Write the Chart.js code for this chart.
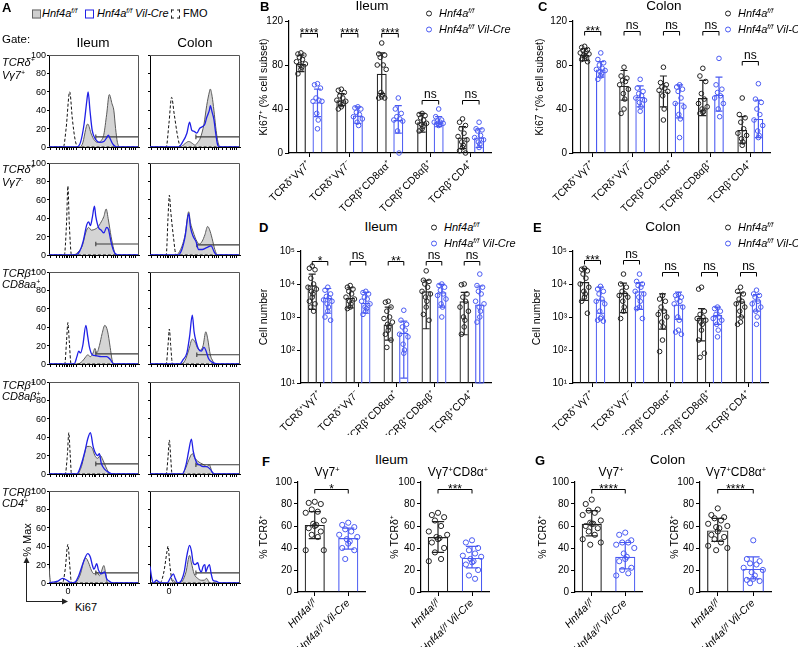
<!DOCTYPE html>
<html>
<head>
<meta charset="utf-8">
<title>Hnf4a IEL Ki67</title>
<script src="https://cdn.jsdelivr.net/npm/chart.js@4.4.1/dist/chart.umd.min.js"></script>
<style>
  html, body { margin: 0; padding: 0; background: #fff; }
  #fig { position: relative; width: 798px; height: 647px; overflow: hidden;
         font-family: 'Liberation Sans', Arial, Helvetica, sans-serif; color: #000; }
  #fig canvas { position: absolute; z-index: 1; }
  .lbl { position: absolute; white-space: nowrap; line-height: 1; z-index: 5; color: #000; }
  .sup { font-size: 62%; vertical-align: 0.55em; }
  .dot { display: inline-block; width: 4px; height: 4px; border: 1.2px solid #222; border-radius: 50%;
         margin-right: 7px; vertical-align: middle; }
  .box { display: inline-block; width: 7px; height: 7px; vertical-align: middle; }
</style>
</head>
<body>
<div id="fig"></div>
<script>
// ---------- A: Ki67 histograms, [Ki67 channel, % max] ----------
const ileumVg7pFF  = [[0,0],[33,0],[37,3],[43,25],[47,14],[50,8],[54,5],[58,7],[61,14],[64,35],[67,57],[70,47],[72,40],[74,20],[76,5],[79,0],[100,0]];
const ileumVg7pCre = [[0,0],[31,0],[35,5],[39,25],[42,50],[43.5,60],[45.5,40],[48,18],[52,8],[56,5],[61,6],[64,10],[66,13],[68,9],[71,3],[75,0],[100,0]];
const ileumVg7pFMO = [[0,0],[16,0],[19,20],[23,60],[26,30],[29,8],[32,0],[100,0]];
const ileumVg7nFF  = [[0,0],[27,0],[32,3],[37,10],[41,25],[44,30],[47,27],[51,28],[54,30],[58,36],[61,42],[63.5,50],[66,38],[69,20],[72,6],[74,0],[100,0]];
const ileumVg7nCre = [[0,0],[29,0],[34,4],[38,15],[42,33],[44,36],[46,32],[48,40],[50.5,53],[52,42],[55,30],[58,27],[61,24],[64,30],[66,28],[69,14],[72,4],[76,0],[100,0]];
const ileumVg7nFMO = [[0,0],[17,0],[19.5,35],[21,75],[22.5,35],[25,0],[100,0]];
const ileumCD8aaFF  = [[0,0],[32,0],[37,3],[41,8],[43,10],[46,8],[49,12],[51,17],[53,12],[56,20],[59,33],[62,42],[65,36],[68,18],[70,5],[72,0],[100,0]];
const ileumCD8aaCre = [[0,0],[28,0],[31,8],[33,14],[35,12],[37.5,20],[41,42],[43,30],[45,18],[48,10],[52,9],[58,8],[64,8],[68,5],[72,0],[100,0]];
const ileumCD8aaFMO = [[0,0],[17.5,0],[19.5,25],[21,45],[22.5,25],[24.5,0],[100,0]];
const ileumCD8abFF  = [[0,0],[31,0],[36,8],[39,20],[42,30],[45,30],[48,28],[51,20],[54,17],[57,20],[60,15],[63,8],[66,2],[67,0],[100,0]];
const ileumCD8abCre = [[0,0],[31,0],[35,8],[40,25],[43,38],[46,45],[49,30],[51,24],[54,20],[56,22],[58,12],[62,5],[66,2],[71,0],[100,0]];
const ileumCD8abFMO = [[0,0],[18,0],[20.5,22],[22,45],[23.5,22],[25,0],[100,0]];
const ileumCD4FF  = [[0,16],[2,0],[27,0],[31,2],[35,10],[39,25],[41,27],[44,22],[47,14],[50,10],[53,12],[56,8],[58,12],[61,19],[63,10],[65,0],[100,0]];
const ileumCD4Cre = [[0,0],[4,1],[10,2],[15,5],[20,3],[25,0],[29,1],[33,8],[38,22],[43,32],[46,28],[48,20],[50,15],[53,21],[55,14],[58,10],[62,12],[64,5],[67,2],[71,0],[100,0]];
const ileumCD4FMO = [[0,0],[15,0],[18,15],[21,42],[23,20],[25,0],[100,0]];

const colonVg7pFF  = [[0,0],[34,0],[38,3],[43,6],[47,4],[50,2],[53,5],[56,10],[60,25],[63,45],[66,60],[67,63],[69,55],[71,40],[73,22],[75,8],[78,0],[100,0]];
const colonVg7pCre = [[0,0],[32,0],[36,5],[41,15],[44,27],[46.5,18],[49,17],[52,15],[55,20],[58,22],[61,25],[63,32],[66,40],[67,45],[69,38],[71,30],[73,15],[75,3],[77,0],[100,0]];
const colonVg7pFMO = [[0,0],[18,0],[21,25],[24,54],[27,35],[31,10],[34,0],[100,0]];
const colonVg7nFF  = [[0,0],[29,0],[34,6],[39,22],[43,47],[45,35],[48,25],[52,15],[55,12],[58,15],[61,22],[64,31],[66,28],[69,18],[72,6],[75,0],[100,0]];
const colonVg7nCre = [[0,0],[31,0],[35,5],[39,20],[43,45],[45,30],[48,20],[51,15],[54,6],[58,6],[63,8],[68,10],[71,4],[74,0],[100,0]];
const colonVg7nFMO = [[0,0],[18,0],[20,40],[21.5,65],[23,48],[26,20],[29,0],[100,0]];
const colonCD8aaFF  = [[0,0],[35,0],[39,4],[43,15],[47,27],[50,24],[53,17],[56,15],[59,20],[62,35],[64,28],[67,10],[70,3],[72,0],[100,0]];
const colonCD8aaCre = [[0,0],[33,0],[37,5],[41,12],[44,30],[47,53],[49,35],[51,25],[54,16],[57,14],[60,18],[62,15],[65,6],[69,2],[75,0],[100,0]];
const colonCD8aaFMO = [[0,0],[18,0],[20,20],[21.5,38],[23,20],[25,0],[100,0]];
const colonCD8abFF  = [[0,0],[35,0],[39,5],[43,15],[47,22],[50,17],[53,14],[56,12],[60,10],[63,8],[66,10],[68,5],[70,0],[100,0]];
const colonCD8abCre = [[0,0],[36,0],[40,10],[43,25],[46,38],[48,25],[52,12],[55,10],[59,8],[63,8],[67,5],[70,1],[72,0],[100,0]];
const colonCD8abFMO = [[0,0],[18,0],[20,18],[21.5,37],[23,18],[24.5,0],[100,0]];
const colonCD4FF  = [[0,0],[24,0],[26,3],[28,1],[32,0],[36,2],[40,12],[44,30],[46,22],[49,10],[53,5],[57,3],[60,3],[63,5],[65,2],[67,0],[100,0]];
const colonCD4Cre = [[0,18],[2,5],[4,0],[7,3],[10,1],[13,0],[19,0],[23,6],[26,10],[28,5],[31,0],[35,3],[38,12],[41,30],[44,41],[46,35],[48,22],[50,20],[53,22],[55,15],[57,12],[59,18],[61,20],[62,12],[64,17],[66,20],[68,10],[70,3],[73,2],[78,0],[100,0]];
const colonCD4FMO = [[0,0],[11,0],[15,10],[19,35],[20,40],[22,20],[24,5],[25.5,0],[100,0]];

// gate start (Ki67) and level (% max) per row
const ileumGates = [[52, 11], [52, 12], [52, 11], [52, 11], [52, 11]];
const colonGates = [[51, 11], [52, 11], [52, 10], [51, 10], [51, 11]];
const pctMaxTicks = [0, 20, 40, 60, 80, 100];

// ---------- B-E: subsets ----------
const subsets = ['TCRδ⁺Vγ7⁺', 'TCRδ⁺Vγ7⁻', 'TCRβ⁺CD8αα⁺', 'TCRβ⁺CD8αβ⁺', 'TCRβ⁺CD4⁺'];

// B: ileum Ki67+ (%)
const ileumKi67FfMean = [81, 48, 72, 28, 14];
const ileumKi67FfLow  = [74, 43, 54, 19, 4];
const ileumKi67FfHigh = [89, 54, 91, 36, 24];
const ileumKi67FfPts  = [[91, 90, 89, 87, 85, 83, 81, 80, 78, 76, 72],
                         [58, 57, 55, 52, 50, 48, 47, 45, 44, 42, 40],
                         [100, 90, 89, 87, 80, 80, 76, 55, 53, 51, 50, 50],
                         [36, 35, 34, 32, 30, 28, 27, 26, 24, 22, 20],
                         [31, 28, 25, 22, 18, 15, 12, 10, 7, 5, 2, 0]];
const ileumKi67CreMean = [46, 34, 30, 28, 14];
const ileumKi67CreLow  = [33, 27, 18, 24, 5];
const ileumKi67CreHigh = [58, 42, 43, 33, 22];
const ileumKi67CrePts  = [[63, 62, 59, 50, 48, 47, 47, 36, 30, 22],
                          [42, 41, 40, 37, 35, 33, 31, 28, 25],
                          [50, 40, 36, 33, 31, 30, 29, 20, 0],
                          [40, 33, 30, 29, 28, 28, 27, 27, 26, 25],
                          [28, 22, 21, 20, 16, 14, 12, 10, 8, 5]];
const ileumKi67Sig   = ['****', '****', '****', 'ns', 'ns'];
const ileumKi67SigAt = [109, 109, 109, 48, 48];

// C: colon Ki67+ (%)
const colonKi67FfMean = [89, 61, 56, 50, 21];
const colonKi67FfLow  = [84, 48, 42, 34, 9];
const colonKi67FfHigh = [95, 75, 70, 66, 33];
const colonKi67FfPts  = [[97, 96, 94, 93, 92, 91, 90, 89, 88, 86, 85, 83],
                         [78, 70, 68, 66, 65, 62, 58, 54, 49, 40, 36],
                         [78, 64, 62, 60, 59, 57, 56, 52, 40, 30],
                         [77, 70, 65, 54, 49, 45, 42, 40, 38, 37, 36],
                         [50, 35, 32, 28, 22, 18, 16, 13, 10, 7]];
const colonKi67CreMean = [76, 51, 46, 53, 31];
const colonKi67CreLow  = [69, 42, 32, 38, 14];
const colonKi67CreHigh = [83, 61, 62, 69, 48];
const colonKi67CrePts  = [[91, 85, 82, 80, 77, 76, 75, 74, 72, 70, 67],
                          [67, 59, 56, 54, 52, 50, 48, 46, 42, 38],
                          [62, 60, 58, 56, 50, 45, 42, 35, 31, 14],
                          [86, 62, 58, 55, 52, 50, 45, 40, 33],
                          [63, 49, 46, 40, 35, 30, 25, 20, 16, 14]];
const colonKi67Sig   = ['***', 'ns', 'ns', 'ns', 'ns'];
const colonKi67SigAt = [111, 111, 111, 111, 84];

// D: ileum cell number
const ileumCountFfMean = [9100, 3800, 590, 6000, 3000];
const ileumCountFfLow  = [1700, 1900, 200, 440, 290];
const ileumCountFfHigh = [20000, 7700, 2000, 13000, 5600];
const ileumCountFfPts  = [[35000, 30000, 27000, 15000, 10000, 8000, 7000, 6000, 5000, 4000, 3000, 2500, 2000, 1500],
                          [9000, 8000, 7000, 6000, 5000, 4000, 3500, 3000, 2500, 2000, 1800],
                          [3000, 2800, 2000, 1500, 1000, 900, 700, 600, 500, 400, 300, 200, 120],
                          [25000, 13000, 12000, 10000, 8000, 6000, 5000, 4000, 3000, 2000, 1200, 800],
                          [10000, 9500, 5000, 4000, 3000, 2000, 1500, 1000, 800, 500, 300]];
const ileumCountCreMean = [3800, 2700, 330, 5600, 2400];
const ileumCountCreLow  = [1300, 1300, 14, 2000, 10];
const ileumCountCreHigh = [7300, 5600, 750, 9800, 8700];
const ileumCountCrePts  = [[8000, 6500, 5000, 4200, 3800, 3300, 3000, 2500, 2000, 1500, 1000, 800],
                           [6000, 5500, 5000, 4000, 3500, 3000, 2500, 2000, 1800, 1500, 1200],
                           [1600, 800, 600, 500, 400, 300, 250, 150, 100, 80],
                           [10000, 9000, 8000, 6500, 5000, 4500, 3500, 2500, 2000, 1000],
                           [20000, 9000, 8000, 6000, 5000, 3000, 2500, 2000, 1500, 1000, 700]];
const ileumCountSig   = ['*', 'ns', '**', 'ns', 'ns'];
const ileumCountSigAt = [50000, 50000, 50000, 50000, 50000];

// E: colon cell number
const colonCountFfMean = [11500, 5400, 1700, 950, 3000];
const colonCountFfLow  = [3200, 1350, 430, 190, 1000];
const colonCountFfHigh = [30000, 10700, 5000, 1800, 5400];
const colonCountFfPts  = [[30000, 28000, 25000, 20000, 15000, 10000, 8000, 6000, 5000, 4000, 3000, 1300],
                          [20000, 10000, 8000, 6000, 5000, 4500, 4000, 3000, 2000, 1500, 900],
                          [4500, 3500, 3000, 2000, 1500, 1200, 1000, 700, 500, 200, 90],
                          [8000, 7000, 1500, 1200, 1000, 900, 800, 700, 600, 400, 200, 80, 60],
                          [8000, 6000, 5000, 3500, 3000, 2500, 2000, 1500, 1000, 700, 600]];
const colonCountCreMean = [3400, 6000, 2400, 1150, 3200];
const colonCountCreLow  = [1300, 1700, 850, 600, 1500];
const colonCountCreHigh = [8000, 11000, 5700, 2000, 4800];
const colonCountCrePts  = [[8500, 7000, 6000, 5000, 3500, 3000, 2500, 1500, 1000, 900, 800, 750],
                           [20000, 12000, 10000, 9000, 8000, 6000, 5000, 4000, 3000, 2000, 1800, 900],
                           [4800, 4500, 4000, 3500, 3000, 2500, 2000, 1000, 800, 400, 350, 300],
                           [2000, 1800, 1500, 1200, 1000, 900, 800, 600, 400, 250],
                           [6500, 5000, 4500, 4000, 3000, 2500, 2000, 1500, 1000, 600]];
const colonCountSig   = ['***', 'ns', 'ns', 'ns', 'ns'];
const colonCountSigAt = [55000, 55000, 23000, 23000, 23000];

// ---------- F-G: % TCRδ+ by genotype ----------
const genotypes = ['Hnf4aᶠ/ᶠ', 'Hnf4aᶠ/ᶠ Vil-Cre'];
const ileumVg7Mean = [61, 49];
const ileumVg7Low  = [48.5, 39];
const ileumVg7High = [73, 58];
const ileumVg7FfPts  = [82, 81, 80, 75, 73, 72, 65, 62, 61, 60, 58, 55, 52, 50, 38, 38];
const ileumVg7CrePts = [63, 61, 59, 57, 55, 52, 50, 48, 46, 44, 40, 38, 30];
const ileumVg7CD8Mean = [50, 31];
const ileumVg7CD8Low  = [36, 22];
const ileumVg7CD8High = [64, 41.5];
const ileumVg7CD8FfPts  = [72, 70, 68, 65, 60, 55, 52, 50, 49, 48, 45, 40, 36, 30, 28];
const ileumVg7CD8CrePts = [47, 45, 40, 38, 35, 33, 32, 30, 28, 27, 25, 20, 15, 12];
const colonVg7Mean = [62, 32];
const colonVg7Low  = [51, 21];
const colonVg7High = [74, 45];
const colonVg7FfPts  = [84, 80, 75, 74, 72, 70, 65, 63, 62, 62, 60, 58, 55, 52, 48, 45, 43];
const colonVg7CrePts = [54, 52, 47, 45, 45, 43, 40, 35, 32, 30, 28, 22, 20, 17, 15];
const colonVg7CD8Mean = [56, 21];
const colonVg7CD8Low  = [46, 12];
const colonVg7CD8High = [67, 32];
const colonVg7CD8FfPts  = [76, 70, 68, 67, 65, 62, 60, 59, 58, 55, 52, 50, 48, 45, 42, 40, 38];
const colonVg7CD8CrePts = [47, 30, 28, 26, 25, 22, 20, 18, 15, 12, 11, 10, 8];
const pairSig   = ['*', '***', '****', '****'];
const pairSigAt = [94, 94, 94, 94];

// ---------- drawing ----------
const FONT = "'Liberation Sans', Arial, Helvetica, sans-serif";
const INK = '#222';
const BLUE = '#4a5af2';
const HIST_BLUE = '#2020e6';
const SUPS = ['⁰', '¹', '²', '³', '⁴', '⁵'];
const SPREAD = [0, -1, 1, -0.5, 0.5, -1.5, 1.5, -0.25, 0.25];
const KI67_TICKS = [2, 8, 12, 15, 17, 19, 21, 23, 25, 27, 31, 37, 41, 45, 48, 50, 52, 56, 61, 65, 69, 72, 74, 76, 80, 85, 89, 92, 94, 96];
const KI67_ZERO = 21;
const HIST_W = 90, HIST_H = 92;
const FF_HTML = '<i>Hnf4a<span class="sup">f/f</span></i>';
const CRE_HTML = '<i>Hnf4a<span class="sup">f/f</span> Vil-Cre</i>';

Chart.defaults.font.family = FONT;
Chart.defaults.color = '#000';
Chart.defaults.animation = false;
Chart.defaults.responsive = false;
Chart.defaults.events = [];
Chart.defaults.plugins.legend.display = false;
Chart.defaults.plugins.tooltip.enabled = false;

const fig = document.getElementById('fig');

function makeCanvas(x, y, w, h) {
  const c = document.createElement('canvas');
  c.width = w; c.height = h;
  c.style.left = x + 'px'; c.style.top = y + 'px';
  c.style.width = w + 'px'; c.style.height = h + 'px';
  fig.appendChild(c);
  return c;
}

function plotCanvas(p) {
  return makeCanvas(p.l - p.yW, p.t - p.padT, p.yW + (p.r - p.l) + p.padR, p.padT + (p.b - p.t) + p.xH);
}

function label(html, x, y, size, opts = {}) {
  const d = document.createElement('div');
  d.className = 'lbl';
  d.innerHTML = html;
  d.style.left = x + 'px';
  d.style.top = y + 'px';
  d.style.fontSize = size + 'px';
  if (opts.bold) d.style.fontWeight = 'bold';
  if (opts.italic) d.style.fontStyle = 'italic';
  const tx = opts.align === 'center' ? '-50%' : opts.align === 'right' ? '-100%' : '0';
  d.style.transform = `translate(${tx}, -50%)` + (opts.rotate ? ` rotate(${opts.rotate}deg)` : '');
  fig.appendChild(d);
}

// top + right border of the flow plots
const boxFrame = {
  id: 'boxFrame',
  afterDraw(chart) {
    const a = chart.chartArea, c = chart.ctx;
    c.save();
    c.strokeStyle = '#555';
    c.lineWidth = 1;
    c.beginPath();
    c.moveTo(a.left, a.top + 0.5);
    c.lineTo(a.right - 0.5, a.top + 0.5);
    c.lineTo(a.right - 0.5, a.bottom);
    c.stroke();
    c.restore();
  }
};

function histogram(top, left, curves, gate, yLabels, xLabels) {
  const p = {l: left, t: top, r: left + HIST_W, b: top + HIST_H, yW: 4, padT: 6, padR: 3, xH: xLabels ? 14 : 4};
  const [ff, cre, fmo] = curves;
  const xy = a => a.map(q => ({x: q[0], y: q[1]}));
  const gateLine = [{x: gate[0], y: gate[1] + 2.5}, {x: gate[0], y: gate[1] - 2.5}, {x: gate[0], y: gate[1]}, {x: 100, y: gate[1]}];
  new Chart(plotCanvas(p), {
    type: 'line',
    data: {
      datasets: [
        {data: xy(cre), borderColor: HIST_BLUE, borderWidth: 1.3, fill: false, order: 1},
        {data: xy(fmo), borderColor: '#111', borderWidth: 1, borderDash: [3, 2], fill: false, order: 2},
        {data: gateLine, borderColor: '#3a3a3a', borderWidth: 1.1, fill: false, cubicInterpolationMode: 'default', tension: 0, order: 3},
        {data: xy(ff), borderColor: '#5a5a5a', borderWidth: 1, backgroundColor: '#d4d4d4', fill: 'origin', order: 4}
      ]
    },
    options: {
      devicePixelRatio: 1,
      layout: {padding: {top: p.padT, right: p.padR, left: 0, bottom: 0}},
      elements: {point: {radius: 0}, line: {cubicInterpolationMode: 'monotone'}},
      scales: {
        x: {
          type: 'linear', min: 0, max: 100,
          afterBuildTicks: s => { s.ticks = KI67_TICKS.map(v => ({value: v})); },
          ticks: {autoSkip: false, maxRotation: 0, padding: 0, font: {size: 9},
                  callback: v => (xLabels && v === KI67_ZERO) ? '0' : ''},
          grid: {drawOnChartArea: false, tickLength: 3, tickColor: '#000'},
          border: {color: '#000', width: 1},
          afterFit: s => { s.height = p.xH; }
        },
        y: {
          type: 'linear', min: 0, max: 100,
          afterBuildTicks: s => { s.ticks = pctMaxTicks.map(v => ({value: v})); },
          ticks: {display: false},
          grid: {drawOnChartArea: false, tickLength: 2, tickColor: '#000'},
          border: {color: '#000', width: 1},
          afterFit: s => { s.width = p.yW; }
        }
      }
    },
    plugins: [boxFrame]
  });
  // % max tick labels beside the ileum column
  if (yLabels) {
    pctMaxTicks.forEach(v => label(String(v), p.l - 3, p.t + HIST_H * (1 - v / 100), 9, {align: 'right'}));
  }
}

// error bars + significance brackets, using the bar elements' own geometry
function statMarks(errs, brackets) {
  return {
    id: 'statMarks',
    afterDatasetsDraw(chart) {
      const ctx = chart.ctx, ys = chart.scales.y;
      ctx.save();
      ctx.lineWidth = 1.2;
      errs.forEach(e => {
        const meta = chart.getDatasetMeta(e.ds);
        e.low.forEach((lo, i) => {
          const bar = meta.data[i];
          const cap = Math.max(3.5, bar.width * 0.3);
          const y1 = ys.getPixelForValue(Math.max(lo, ys.min));
          const y2 = ys.getPixelForValue(e.high[i]);
          ctx.strokeStyle = e.color;
          ctx.beginPath();
          ctx.moveTo(bar.x, y1); ctx.lineTo(bar.x, y2);
          ctx.moveTo(bar.x - cap, y1); ctx.lineTo(bar.x + cap, y1);
          ctx.moveTo(bar.x - cap, y2); ctx.lineTo(bar.x + cap, y2);
          ctx.stroke();
        });
      });
      ctx.lineWidth = 1;
      ctx.strokeStyle = '#000';
      ctx.fillStyle = '#000';
      ctx.font = '12px ' + FONT;
      ctx.textAlign = 'center';
      ctx.textBaseline = 'alphabetic';
      brackets.forEach(b => {
        const xa = chart.getDatasetMeta(b.a[0]).data[b.a[1]].x;
        const xb = chart.getDatasetMeta(b.b[0]).data[b.b[1]].x;
        const yy = Math.round(ys.getPixelForValue(b.at)) + 0.5;
        ctx.beginPath();
        ctx.moveTo(xa, yy + 4); ctx.lineTo(xa, yy); ctx.lineTo(xb, yy); ctx.lineTo(xb, yy + 4);
        ctx.stroke();
        const stars = b.text.indexOf('*') >= 0;
        ctx.fillText(b.text, (xa + xb) / 2, stars ? yy + 3 : yy - 3);
      });
      ctx.restore();
    }
  };
}

function isPow10(v) {
  const l = Math.log10(v);
  return Math.abs(l - Math.round(l)) < 1e-9;
}

// bars, dots, error bars and brackets share one linear x axis (category i sits at x = i)
function barPanel(p, o) {
  const pair = !!o.pair;
  const n = o.labels.length;
  const SHIFT = pair ? 0 : 0.205;          // half the distance between the two bars of a group
  const BP = 0.6;                          // bar width as a share of the closest bar spacing
  const half = pair ? BP / 2 : SHIFT * BP; // half bar width, in x units
  const sets = [{s: o.ff, col: INK}, {s: o.cre, col: BLUE}];
  const datasets = [];
  const errs = [];
  sets.forEach(({s, col}, k) => {
    const centers = pair ? [k] : o.labels.map((_, i) => i + (k ? 1 : -1) * SHIFT);
    const means = pair ? [s.mean] : s.mean;
    datasets.push({type: 'bar', data: centers.map((c, i) => ({x: c, y: means[i]})),
                   xAxisID: 'x', yAxisID: 'y', grouped: false,
                   borderColor: col, backgroundColor: 'rgba(0,0,0,0)', borderWidth: 1.2,
                   categoryPercentage: 1, barPercentage: BP, order: 3});
    errs.push({ds: k, low: pair ? [s.low] : s.low, high: pair ? [s.high] : s.high, color: col});
  });
  sets.forEach(({s, col}, k) => {
    const columns = pair ? [s.pts] : s.pts;
    const data = [];
    columns.forEach((vals, i) => {
      const center = pair ? k : i + (k ? 1 : -1) * SHIFT;
      vals.forEach((v, j) => data.push({x: center + SPREAD[j % SPREAD.length] * half * 0.6, y: v}));
    });
    datasets.push({type: 'scatter', data, xAxisID: 'x', yAxisID: 'y', borderColor: col,
                   backgroundColor: 'rgba(255,255,255,0)', pointRadius: o.dot, pointBorderWidth: 1,
                   clip: false, order: 1});
  });
  const brackets = o.sig.map((t, i) => pair
    ? {a: [0, 0], b: [1, 0], at: o.sigAt[i], text: t}
    : {a: [0, i], b: [1, i], at: o.sigAt[i], text: t});

  const yTitleSize = 10.5;
  const titlePad = o.titleX - (p.l - p.yW) - 0.6 * yTitleSize;
  const y = o.log ? {
    type: 'logarithmic', min: 10, max: 100000,
    afterBuildTicks: s => { s.ticks = s.ticks.filter(t => isPow10(t.value)); },
    ticks: {padding: 2, font: {size: 10}, callback: v => '10' + SUPS[Math.round(Math.log10(v))]}
  } : {
    type: 'linear', min: 0, max: o.yMax,
    ticks: {stepSize: o.yStep, padding: 2, font: {size: 10}}
  };
  Object.assign(y, {
    grid: {drawOnChartArea: false, tickLength: 4, tickColor: '#000'},
    border: {color: '#000', width: 1.2},
    title: {display: true, text: o.yTitle, font: {size: yTitleSize}, padding: {top: titlePad, bottom: 0}},
    afterFit: s => { s.width = p.yW; }
  });

  new Chart(plotCanvas(p), {
    type: 'bar',
    data: {datasets},
    options: {
      devicePixelRatio: 1,
      layout: {padding: {top: p.padT, right: p.padR, left: 0, bottom: 0}},
      scales: {
        x: {
          type: 'linear', min: -0.5, max: n - 0.5, offset: false,
          afterBuildTicks: s => { s.ticks = o.labels.map((_, i) => ({value: i})); },
          grid: {offset: false, drawOnChartArea: false, tickLength: 4, tickColor: '#000'},
          border: {color: '#000', width: 1.2},
          ticks: {autoSkip: false, minRotation: 45, maxRotation: 45, padding: 1,
                  font: {size: 10.5, style: pair ? 'italic' : 'normal'},
                  callback: v => o.labels[v] || ''},
          afterFit: s => { s.height = p.xH; }
        },
        y
      }
    },
    plugins: [statMarks(errs, brackets)]
  });
}

// ---------- panel A ----------
const histRows = [
  {top: 55,  ileum: [ileumVg7pFF, ileumVg7pCre, ileumVg7pFMO],    colon: [colonVg7pFF, colonVg7pCre, colonVg7pFMO]},
  {top: 163, ileum: [ileumVg7nFF, ileumVg7nCre, ileumVg7nFMO],    colon: [colonVg7nFF, colonVg7nCre, colonVg7nFMO]},
  {top: 272, ileum: [ileumCD8aaFF, ileumCD8aaCre, ileumCD8aaFMO], colon: [colonCD8aaFF, colonCD8aaCre, colonCD8aaFMO]},
  {top: 382, ileum: [ileumCD8abFF, ileumCD8abCre, ileumCD8abFMO], colon: [colonCD8abFF, colonCD8abCre, colonCD8abFMO]},
  {top: 491, ileum: [ileumCD4FF, ileumCD4Cre, ileumCD4FMO],       colon: [colonCD4FF, colonCD4Cre, colonCD4FMO]}
];
histRows.forEach((r, i) => {
  const last = i === histRows.length - 1;
  histogram(r.top, 49, r.ileum, ileumGates[i], true, last);
  histogram(r.top, 150, r.colon, colonGates[i], false, last);
});

const rowNames = [['TCRδ<span class="sup">+</span>', 'Vγ7<span class="sup">+</span>', 62, 75],
                  ['TCRδ<span class="sup">+</span>', 'Vγ7<span class="sup">-</span>', 169, 182],
                  ['TCRβ<span class="sup">+</span>', 'CD8aa<span class="sup">+</span>', 273, 284],
                  ['TCRβ<span class="sup">+</span>', 'CD8aβ<span class="sup">+</span>', 385, 396],
                  ['TCRβ<span class="sup">+</span>', 'CD4<span class="sup">+</span>', 492, 503]];
rowNames.forEach(r => {
  label(r[0], 2, r[2], 11, {italic: true});
  label(r[1], 2, r[3], 11, {italic: true});
});

label('A', 2, 7, 13, {bold: true});
label('<span class="box" style="background:#cfcfcf;border:1px solid #666"></span>', 32, 13, 11);
label(FF_HTML, 42, 13, 11);
label('<span class="box" style="border:1.2px solid ' + HIST_BLUE + '"></span>', 85, 13, 11);
label(CRE_HTML, 97, 13, 11);
label('<span class="box" style="border:1px dashed #222"></span>', 171, 13, 11);
label('FMO', 183, 13, 11);
label('Gate:', 2, 40, 11.5);
label('Ileum', 93, 43, 13.5, {align: 'center'});
label('Colon', 195, 43, 13.5, {align: 'center'});
label('% Max', 27, 540, 11, {align: 'center', rotate: -90});
label('Ki67', 75, 607, 11);

const svg = document.createElementNS('http://www.w3.org/2000/svg', 'svg');
svg.setAttribute('width', '80'); svg.setAttribute('height', '60');
svg.style.position = 'absolute'; svg.style.left = '0px'; svg.style.top = '550px';
svg.innerHTML = '<line x1="26.5" y1="52" x2="26.5" y2="12" stroke="#222" stroke-width="1"/>' +
                '<polygon points="23.5,13 29.5,13 26.5,7" fill="#222"/>' +
                '<line x1="26.5" y1="51.5" x2="63" y2="51.5" stroke="#222" stroke-width="1"/>' +
                '<polygon points="62,48.5 62,54.5 68,51.5" fill="#222"/>';
fig.appendChild(svg);

// ---------- panels B-E ----------
function pack(mean, low, high, pts) { return {mean, low, high, pts}; }

barPanel({l: 289, t: 21, r: 491, b: 153, yW: 39, padT: 12, padR: 6, xH: 58}, {
  labels: subsets, yMax: 120, yStep: 40, yTitle: 'Ki67⁺ (% cell subset)', titleX: 264, dot: 2.3,
  ff: pack(ileumKi67FfMean, ileumKi67FfLow, ileumKi67FfHigh, ileumKi67FfPts),
  cre: pack(ileumKi67CreMean, ileumKi67CreLow, ileumKi67CreHigh, ileumKi67CrePts),
  sig: ileumKi67Sig, sigAt: ileumKi67SigAt
});
barPanel({l: 573, t: 21, r: 770, b: 153, yW: 47, padT: 12, padR: 6, xH: 58}, {
  labels: subsets, yMax: 120, yStep: 40, yTitle: 'Ki67 ⁺(% cell subset)', titleX: 540, dot: 2.3,
  ff: pack(colonKi67FfMean, colonKi67FfLow, colonKi67FfHigh, colonKi67FfPts),
  cre: pack(colonKi67CreMean, colonKi67CreLow, colonKi67CreHigh, colonKi67CrePts),
  sig: colonKi67Sig, sigAt: colonKi67SigAt
});
barPanel({l: 301, t: 251, r: 491, b: 383, yW: 49, padT: 10, padR: 6, xH: 52}, {
  labels: subsets, log: true, yTitle: 'Cell number', titleX: 264, dot: 2.3,
  ff: pack(ileumCountFfMean, ileumCountFfLow, ileumCountFfHigh, ileumCountFfPts),
  cre: pack(ileumCountCreMean, ileumCountCreLow, ileumCountCreHigh, ileumCountCrePts),
  sig: ileumCountSig, sigAt: ileumCountSigAt
});
barPanel({l: 573, t: 251, r: 768, b: 383, yW: 48, padT: 10, padR: 6, xH: 52}, {
  labels: subsets, log: true, yTitle: 'Cell number', titleX: 537, dot: 2.3,
  ff: pack(colonCountFfMean, colonCountFfLow, colonCountFfHigh, colonCountFfPts),
  cre: pack(colonCountCreMean, colonCountCreLow, colonCountCreHigh, colonCountCrePts),
  sig: colonCountSig, sigAt: colonCountSigAt
});

// ---------- panels F-G ----------
const pairs = [
  {p: {l: 298, t: 482, r: 365, b: 592, yW: 46}, titleX: 264, mean: ileumVg7Mean, low: ileumVg7Low, high: ileumVg7High, ff: ileumVg7FfPts, cre: ileumVg7CrePts},
  {p: {l: 421, t: 482, r: 489, b: 592, yW: 38}, titleX: 395, mean: ileumVg7CD8Mean, low: ileumVg7CD8Low, high: ileumVg7CD8High, ff: ileumVg7CD8FfPts, cre: ileumVg7CD8CrePts},
  {p: {l: 575, t: 482, r: 642, b: 592, yW: 44}, titleX: 543, mean: colonVg7Mean, low: colonVg7Low, high: colonVg7High, ff: colonVg7FfPts, cre: colonVg7CrePts},
  {p: {l: 700, t: 482, r: 771, b: 592, yW: 37}, titleX: 675, mean: colonVg7CD8Mean, low: colonVg7CD8Low, high: colonVg7CD8High, ff: colonVg7CD8FfPts, cre: colonVg7CD8CrePts}
];
pairs.forEach((q, i) => {
  barPanel(Object.assign({padT: 8, padR: 6, xH: 55}, q.p), {
    pair: true, labels: genotypes, yMax: 100, yStep: 20, yTitle: '% TCRδ⁺', titleX: q.titleX, dot: 2.6,
    ff: pack(q.mean[0], q.low[0], q.high[0], q.ff),
    cre: pack(q.mean[1], q.low[1], q.high[1], q.cre),
    sig: [pairSig[i]], sigAt: [pairSigAt[i]]
  });
});

// ---------- text for B-G ----------
[['B', 260, 6], ['C', 538, 6], ['D', 259, 227], ['E', 533, 227], ['F', 262, 461], ['G', 535, 460]]
  .forEach(t => label(t[0], t[1], t[2], 13, {bold: true}));
label('Ileum', 372, 6, 13.5, {align: 'center'});
label('Colon', 664, 6, 13.5, {align: 'center'});
label('Ileum', 381, 227, 13.5, {align: 'center'});
label('Colon', 663, 227, 13.5, {align: 'center'});
label('Ileum', 375, 460, 13.5);
label('Colon', 650, 460, 13.5);
label('Vγ7<span class="sup">+</span>', 327, 472, 12, {align: 'center'});
label('Vγ7<span class="sup">+</span>CD8α<span class="sup">+</span>', 458, 472, 12, {align: 'center'});
label('Vγ7<span class="sup">+</span>', 611, 472, 12, {align: 'center'});
label('Vγ7<span class="sup">+</span>CD8α<span class="sup">+</span>', 736, 472, 12, {align: 'center'});

[[426, 13], [725, 13], [431, 227], [725, 227]].forEach(([x, y]) => {
  label('<span class="dot" style="border-color:' + INK + '"></span>' + FF_HTML, x, y, 11);
  label('<span class="dot" style="border-color:' + BLUE + '"></span>' + CRE_HTML, x, y + 16, 11);
});
</script>
</body>
</html>
